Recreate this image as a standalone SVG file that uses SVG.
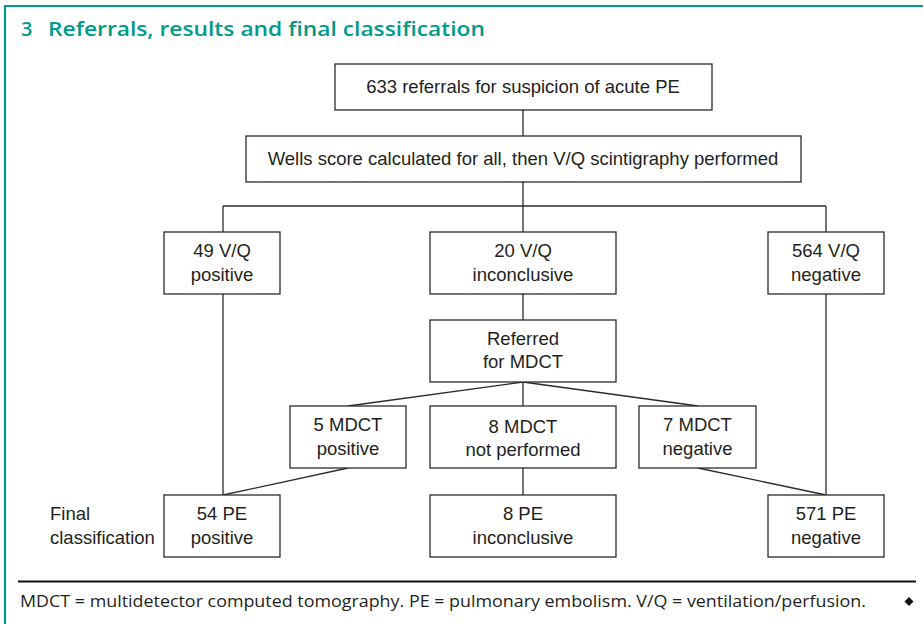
<svg xmlns="http://www.w3.org/2000/svg" width="923" height="624" viewBox="0 0 923 624">
<style>
.frame{fill:none;stroke:#009a88;stroke-width:2.2}
.title{font-family:"Open Sans","Noto Sans",sans-serif;font-weight:600;font-size:20px;fill:#009a88}
.box{fill:#fff;stroke:#2b2b2b;stroke-width:1.3}
.t{font-family:"Liberation Sans",Arial,sans-serif;font-size:18.5px;fill:#231f20;text-anchor:middle}
.lbl{font-family:"Liberation Sans",Arial,sans-serif;font-size:18.5px;fill:#231f20}
.conn line{stroke:#2b2b2b;stroke-width:1.3}
.foot{font-family:"Open Sans","Noto Sans",sans-serif;font-size:15.5px;fill:#231f20}
</style>
<rect width="923" height="624" fill="#fff"/>
<path class="frame" d="M5,624 V6 H923"/>
<text class="title" x="21" y="36">3</text>
<text class="title" x="48" y="36" textLength="437" lengthAdjust="spacingAndGlyphs">Referrals, results and final classification</text>

<g id="connectors" class="conn">
<line x1="523" y1="110" x2="523" y2="136"/>
<line x1="523" y1="182" x2="523" y2="232"/>
<line x1="223" y1="206" x2="826" y2="206"/>
<line x1="223" y1="206" x2="223" y2="232"/>
<line x1="826" y1="206" x2="826" y2="232"/>
<line x1="223" y1="294" x2="223" y2="495"/>
<line x1="826" y1="294" x2="826" y2="495"/>
<line x1="523" y1="294" x2="523" y2="320"/>
<line x1="523" y1="382" x2="348" y2="406"/>
<line x1="523" y1="382" x2="523" y2="406"/>
<line x1="523" y1="382" x2="698" y2="406"/>
<line x1="348" y1="468" x2="223" y2="495"/>
<line x1="523" y1="468" x2="523" y2="495"/>
<line x1="698" y1="468" x2="826" y2="495"/>
</g>

<g id="referrals"><rect class="box" x="335" y="64" width="377" height="46"/><text class="t" x="523" y="93">633 referrals for suspicion of acute PE</text></g>
<g id="wells"><rect class="box" x="246" y="136" width="555" height="46"/><text class="t" x="523" y="165">Wells score calculated for all, then V/Q scintigraphy performed</text></g>

<g id="vq-positive"><rect class="box" x="164" y="232" width="116" height="62"/><text class="t" x="222" y="257">49 V/Q</text><text class="t" x="222" y="280.5">positive</text></g>
<g id="vq-inconclusive"><rect class="box" x="430" y="232" width="186" height="62"/><text class="t" x="523" y="257">20 V/Q</text><text class="t" x="523" y="280.5">inconclusive</text></g>
<g id="vq-negative"><rect class="box" x="768" y="232" width="116" height="62"/><text class="t" x="826" y="257">564 V/Q</text><text class="t" x="826" y="280.5">negative</text></g>

<g id="referred-mdct"><rect class="box" x="430" y="320" width="186" height="62"/><text class="t" x="523" y="345">Referred</text><text class="t" x="523" y="368">for MDCT</text></g>

<g id="mdct-positive"><rect class="box" x="290" y="406" width="116" height="62"/><text class="t" x="348" y="431">5 MDCT</text><text class="t" x="348" y="454.5">positive</text></g>
<g id="mdct-not-performed"><rect class="box" x="430" y="406" width="186" height="62"/><text class="t" x="523" y="433">8 MDCT</text><text class="t" x="523" y="456">not performed</text></g>
<g id="mdct-negative"><rect class="box" x="639" y="406" width="117" height="62"/><text class="t" x="697.5" y="431">7 MDCT</text><text class="t" x="697.5" y="454.5">negative</text></g>

<g id="final-label"><text class="lbl" x="50" y="520">Final</text><text class="lbl" x="50" y="544">classification</text></g>
<g id="pe-positive"><rect class="box" x="164" y="495" width="116" height="62"/><text class="t" x="222" y="520">54 PE</text><text class="t" x="222" y="544">positive</text></g>
<g id="pe-inconclusive"><rect class="box" x="430" y="495" width="186" height="62"/><text class="t" x="523" y="520">8 PE</text><text class="t" x="523" y="544">inconclusive</text></g>
<g id="pe-negative"><rect class="box" x="768" y="495" width="116" height="62"/><text class="t" x="826" y="520">571 PE</text><text class="t" x="826" y="544">negative</text></g>

<line x1="18" y1="581.5" x2="916" y2="581.5" stroke="#111" stroke-width="2"/>
<text class="foot" x="20" y="607" textLength="846" lengthAdjust="spacingAndGlyphs">MDCT = multidetector computed tomography. PE = pulmonary embolism. V/Q = ventilation/perfusion.</text>
<path d="M909,597 L913.5,601.5 L909,606 L904.5,601.5 Z" fill="#111"/>
</svg>
